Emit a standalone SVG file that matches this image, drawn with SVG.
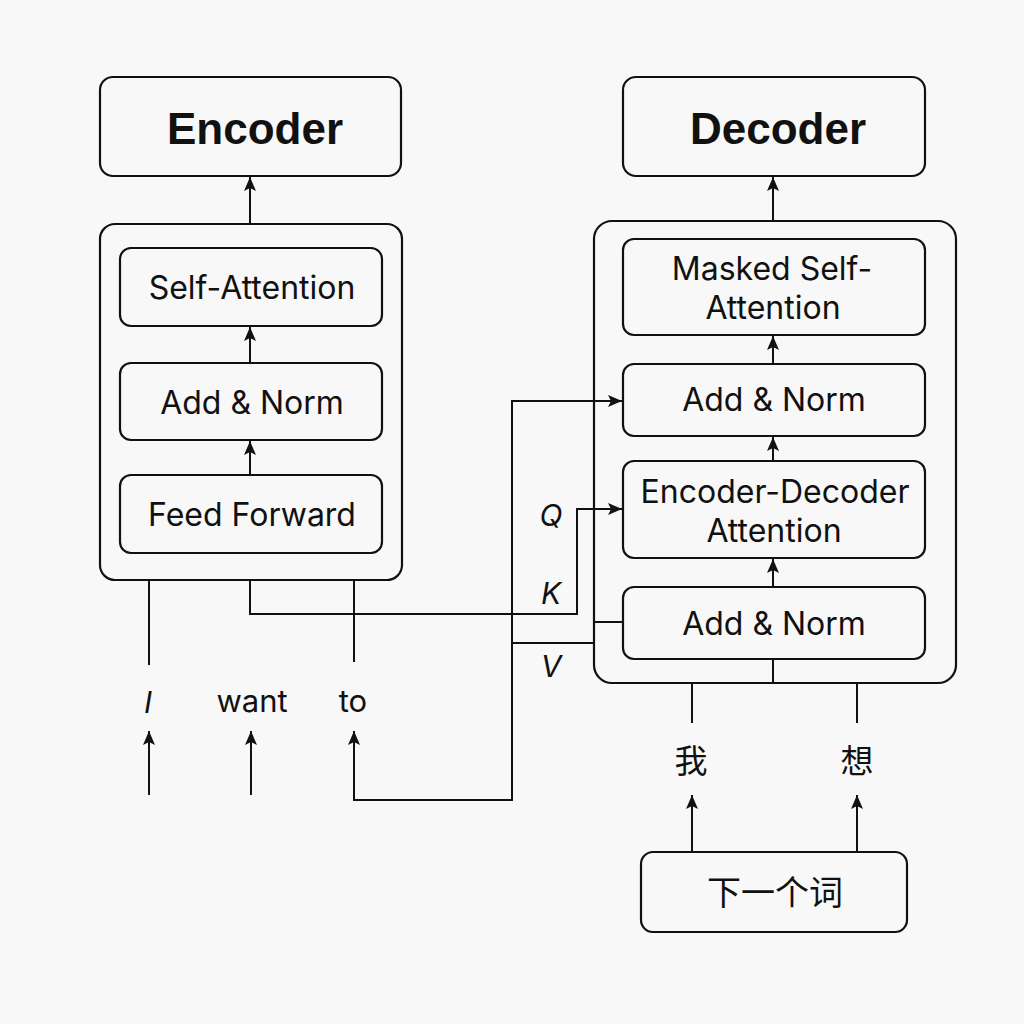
<svg xmlns="http://www.w3.org/2000/svg" width="1024" height="1024" viewBox="0 0 1024 1024">
<defs>
<marker id="ah" viewBox="0 0 14 12" refX="14" refY="6" markerWidth="14" markerHeight="12" markerUnits="userSpaceOnUse" orient="auto-start-reverse">
<path d="M0,0 L14,6 L0,12 L3,6 z" fill="#111"/>
</marker>
<style>
.box{fill:none;stroke:#111;stroke-width:2.2}
.ln{fill:none;stroke:#111;stroke-width:2}
.t{font-family:Inter,"Liberation Sans",Arial,sans-serif;font-size:32px;fill:#111;text-anchor:middle}
.title{font-family:"Liberation Sans",Arial,sans-serif;font-size:44px;font-weight:bold;fill:#111;text-anchor:middle}
.it{font-family:Inter,"Liberation Sans",Arial,sans-serif;font-size:30px;font-style:italic;fill:#111;text-anchor:middle}
.tok{font-family:Inter,"Liberation Sans",Arial,sans-serif;font-size:31px;fill:#111;text-anchor:middle}
.cjk{font-family:"Noto Sans CJK SC",sans-serif;font-size:33px;fill:#111;text-anchor:middle}
</style>
</defs>
<rect width="1024" height="1024" fill="#f8f8f8"/>

<g id="encoder-title"><rect class="box" x="100" y="77" width="301" height="99" rx="13"/><text class="title" x="255" y="144">Encoder</text></g>
<g id="encoder-block"><rect class="box" x="100" y="224" width="302" height="356" rx="15"/></g>
<g id="enc-self-attn"><rect class="box" x="120" y="248" width="262" height="78" rx="11"/><text class="t" x="252" y="299">Self-Attention</text></g>
<g id="enc-add-norm"><rect class="box" x="120" y="363" width="262" height="77" rx="11"/><text class="t" x="252" y="414">Add &amp; Norm</text></g>
<g id="enc-ff"><rect class="box" x="120" y="475" width="262" height="78" rx="11"/><text class="t" x="252" y="526">Feed Forward</text></g>

<g id="decoder-title"><rect class="box" x="623" y="77" width="302" height="99" rx="13"/><text class="title" x="778" y="144">Decoder</text></g>
<g id="decoder-block"><rect class="box" x="594" y="221" width="362" height="462" rx="18"/></g>
<g id="dec-masked"><rect class="box" x="623" y="239" width="302" height="96" rx="11"/><text class="t" x="772" y="280">Masked Self-</text><text class="t" x="773" y="319">Attention</text></g>
<g id="dec-add-norm1"><rect class="box" x="623" y="364" width="302" height="72" rx="11"/><text class="t" x="774" y="411">Add &amp; Norm</text></g>
<g id="dec-encdec"><rect class="box" x="623" y="461" width="302" height="97" rx="11"/><text class="t" x="775" y="503">Encoder-Decoder</text><text class="t" x="774" y="542">Attention</text></g>
<g id="dec-add-norm2"><rect class="box" x="623" y="587" width="302" height="72" rx="11"/><text class="t" x="774" y="635">Add &amp; Norm</text></g>

<g id="next-word"><rect class="box" x="641" y="852" width="266" height="80" rx="12"/><text class="cjk" x="775" y="905" style="font-size:34px">下一个词</text></g>

<g id="labels">
<text class="it" x="551" y="526">Q</text>
<text class="it" x="551" y="604">K</text>
<text class="it" x="551" y="677">V</text>
<text class="it" x="148" y="713">I</text>
<text class="tok" x="252" y="712">want</text>
<text class="tok" x="353" y="712">to</text>
<text class="cjk" x="691" y="773">我</text>
<text class="cjk" x="857" y="773">想</text>
</g>

<g id="connectors">
<line class="ln" x1="250" y1="224" x2="250" y2="177" marker-end="url(#ah)"/>
<line class="ln" x1="250" y1="363" x2="250" y2="327" marker-end="url(#ah)"/>
<line class="ln" x1="250" y1="475" x2="250" y2="441" marker-end="url(#ah)"/>
<line class="ln" x1="773" y1="221" x2="773" y2="177" marker-end="url(#ah)"/>
<line class="ln" x1="773" y1="364" x2="773" y2="336" marker-end="url(#ah)"/>
<line class="ln" x1="773" y1="461" x2="773" y2="437" marker-end="url(#ah)"/>
<line class="ln" x1="773" y1="587" x2="773" y2="559" marker-end="url(#ah)"/>
<line class="ln" x1="773" y1="659" x2="773" y2="683"/>
<line class="ln" x1="149" y1="580" x2="149" y2="665"/>
<line class="ln" x1="354" y1="580" x2="354" y2="662"/>
<path class="ln" d="M250,580 V614 H577 V509 H622" marker-end="url(#ah)"/>
<path class="ln" d="M622,401 H512 V800 H354 V731" marker-start="url(#ah)" marker-end="url(#ah)"/>
<line class="ln" x1="512" y1="643" x2="594" y2="643"/>
<line class="ln" x1="594" y1="622" x2="623" y2="622"/>
<line class="ln" x1="149" y1="795" x2="149" y2="731" marker-end="url(#ah)"/>
<line class="ln" x1="251" y1="795" x2="251" y2="731" marker-end="url(#ah)"/>
<line class="ln" x1="692" y1="683" x2="692" y2="723"/>
<line class="ln" x1="857" y1="683" x2="857" y2="723"/>
<line class="ln" x1="692" y1="852" x2="692" y2="795" marker-end="url(#ah)"/>
<line class="ln" x1="857" y1="852" x2="857" y2="795" marker-end="url(#ah)"/>
</g>
</svg>
